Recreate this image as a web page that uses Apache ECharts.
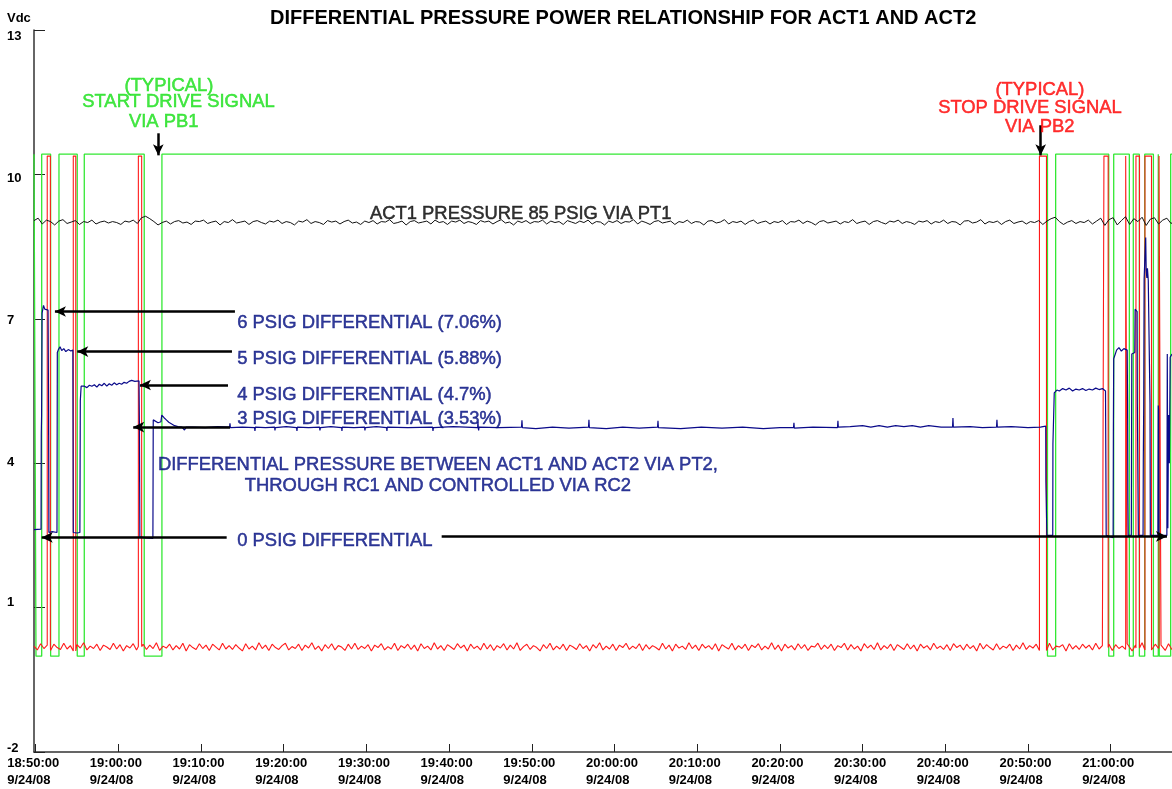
<!DOCTYPE html>
<html><head><meta charset="utf-8">
<script src="https://cdn.jsdelivr.net/npm/echarts@6/dist/echarts.min.js"></script>
<style>html,body{margin:0;padding:0;background:#fff}#c{width:1172px;height:789px}</style>
</head><body><div id="c"></div>
<script>
// x values are minutes after 18:50:00 on 9/24/08
const titleText = 'DIFFERENTIAL PRESSURE POWER RELATIONSHIP FOR ACT1 AND ACT2';
const yUnit = 'Vdc';
const xTickMinutes = [0,10,20,30,40,50,60,70,80,90,100,110,120,130];
const xTickTimes = ['18:50:00','19:00:00','19:10:00','19:20:00','19:30:00','19:40:00','19:50:00','20:00:00','20:10:00','20:20:00','20:30:00','20:40:00','20:50:00','21:00:00'];
const xTickDate = '9/24/08';

// ACT1 pressure (PT1), sampled every 0.5 min from -0.2
const blackStart = -0.2, blackStep = 0.5;
const blackVals = [
9.04,9.09,8.97,9.05,9.02,8.95,9.03,9.06,8.98,9.01,9.04,8.96,9.02,9.00,9.05,8.97,9.01,9.03,8.99,9.02,
9.00,8.96,9.03,9.01,9.05,8.98,9.10,9.13,9.08,9.02,8.95,9.00,9.03,8.97,9.02,9.04,8.99,9.01,8.96,9.03,
9.02,9.05,8.98,9.01,9.03,8.95,9.02,9.00,9.06,8.99,9.01,9.03,8.96,9.02,9.04,9.00,8.97,9.03,9.01,9.05,
8.98,9.02,9.00,8.95,9.03,9.01,9.06,8.98,9.02,9.00,8.96,9.04,9.01,9.03,8.97,9.02,9.05,8.99,9.01,8.96,
9.03,9.00,9.04,8.97,9.02,9.01,9.06,8.98,9.00,9.03,8.95,9.02,9.04,8.99,9.01,9.03,8.97,9.05,9.00,9.02,
8.96,9.03,9.01,9.05,8.98,9.02,9.00,8.96,9.04,9.01,9.03,8.97,9.02,9.06,8.99,9.01,8.95,9.03,9.00,9.04,
8.98,9.02,9.01,9.05,8.97,9.03,9.00,9.02,8.96,9.04,9.01,8.98,9.03,9.00,9.05,8.97,9.02,9.01,8.95,9.03,
9.00,9.04,8.98,9.02,9.01,9.06,8.97,9.03,9.00,8.96,9.02,9.04,8.99,9.01,9.03,8.96,9.02,9.00,9.05,8.98,
9.02,9.01,8.95,9.03,9.04,8.99,9.01,9.06,8.97,9.02,9.00,9.03,8.96,9.02,9.05,8.98,9.01,9.03,8.97,9.02,
9.00,9.04,8.96,9.02,9.01,9.05,8.98,9.03,9.00,8.95,9.02,9.04,8.99,9.01,9.03,8.97,9.02,9.00,9.06,8.98,
9.01,9.03,8.96,9.02,9.04,9.00,8.97,9.03,9.01,9.05,8.98,9.02,9.00,8.96,9.03,9.01,9.04,8.97,9.02,9.00,
9.05,8.98,9.02,9.01,8.95,9.03,9.04,8.99,9.01,9.06,8.97,9.02,9.00,9.03,8.96,9.02,9.05,8.98,9.01,9.03,
8.97,9.02,9.00,9.04,8.96,9.03,9.08,9.11,9.02,8.96,9.01,9.04,8.98,9.02,9.00,9.05,8.97,9.03,9.09,8.94,
9.06,9.10,8.95,9.04,9.12,8.96,9.08,9.02,9.11,8.94,9.07,9.10,8.97,9.05,9.09,8.98,9.04];

// Stop drive signal (red) baseline, sampled every 0.4 min from -0.2
const redStart = -0.2, redStep = 0.4;
const redBase = [
0.20,0.12,0.25,0.15,0.22,0.11,0.24,0.17,0.13,0.26,0.14,0.21,0.10,0.23,0.16,0.27,0.12,0.20,0.15,0.24,
0.11,0.22,0.18,0.13,0.26,0.14,0.23,0.10,0.21,0.16,0.25,0.12,0.19,0.24,0.13,0.22,0.15,0.27,0.11,0.20,
0.16,0.24,0.12,0.21,0.14,0.26,0.10,0.23,0.17,0.13,0.25,0.15,0.22,0.11,0.24,0.18,0.12,0.26,0.14,0.21,
0.13,0.23,0.16,0.10,0.25,0.14,0.20,0.12,0.27,0.15,0.22,0.11,0.24,0.17,0.13,0.21,0.26,0.12,0.19,0.15,
0.24,0.11,0.22,0.16,0.27,0.13,0.20,0.10,0.23,0.15,0.25,0.12,0.21,0.18,0.11,0.24,0.14,0.26,0.13,0.20,
0.15,0.23,0.10,0.22,0.17,0.25,0.12,0.19,0.14,0.26,0.11,0.21,0.16,0.24,0.13,0.22,0.10,0.25,0.15,0.20,
0.12,0.27,0.14,0.21,0.11,0.23,0.18,0.13,0.25,0.16,0.22,0.10,0.24,0.15,0.20,0.12,0.26,0.14,0.23,0.11,
0.21,0.16,0.25,0.12,0.22,0.14,0.27,0.11,0.19,0.24,0.13,0.21,0.17,0.10,0.23,0.15,0.26,0.12,0.20,0.14,
0.24,0.11,0.22,0.18,0.13,0.25,0.15,0.21,0.10,0.23,0.16,0.27,0.12,0.20,0.14,0.24,0.11,0.22,0.17,0.26,
0.13,0.20,0.15,0.25,0.11,0.23,0.14,0.21,0.17,0.12,0.26,0.14,0.22,0.10,0.24,0.16,0.20,0.13,0.27,0.15,
0.22,0.11,0.24,0.16,0.21,0.13,0.25,0.10,0.23,0.18,0.14,0.26,0.12,0.21,0.15,0.24,0.11,0.22,0.17,0.25,
0.12,0.20,0.14,0.27,0.13,0.22,0.10,0.24,0.16,0.21,0.12,0.25,0.15,0.23,0.11,0.20,0.18,0.26,0.13,0.22,
0.15,0.24,0.11,0.21,0.17,0.26,0.12,0.23,0.14,0.20,0.10,0.25,0.16,0.22,0.13,0.27,0.12,0.21,0.15,0.24,
0.11,0.23,0.18,0.13,0.25,0.14,0.22,0.10,0.24,0.16,0.21,0.12,0.26,0.15,0.20,0.13,0.23,0.11,0.25,0.17,
0.22,0.12,0.24,0.15,0.21,0.10,0.26,0.14,0.23,0.17,0.12,0.25,0.13,0.20,0.16,0.24,0.11,0.22,0.14,0.27,
0.13,0.21,0.16,0.24,0.11,0.22,0.15,0.26,0.12,0.20,0.18,0.23,0.10,0.25,0.14,0.21,0.13,0.24,0.16,0.22,
0.12,0.26,0.14,0.21,0.17,0.24,0.11,0.23,0.15,0.20,0.13,0.25,0.10,0.22,0.16,0.27,0.12,0.21,0.14,0.24,
0.15,0.22,0.11,0.25,0.13,0.20,0.17,0.24,0.12,0.23,0.14,0.26,0.10,0.21,0.16,0.24,0.12,0.22,0.15,0.20];
const redTop = 10.38;
const redPulses = [[1.40,1.78],[4.55,4.85],[12.42,12.82],[121.39,122.24],[129.19,129.70],[131.82,132.00],[133.06,133.49],[134.15,134.94],[135.85,136.09]];

// Start drive signal (green): starts high, toggles at these minutes
const greenHigh = 10.42, greenLow = -0.01;
const greenSwitch = [0.04,0.73,1.81,2.82,5.03,5.88,13.13,15.27,122.36,123.35,129.77,130.37,132.26,132.74,133.47,134.12,135.17,135.76,135.88,137.26];

// Differential pressure PT2 (blue)
const bluePts = [
[-0.2,2.62],[0.65,2.63],[0.68,4.6],[0.72,5.0],[0.78,7.12],[0.95,7.28],[1.1,7.2],[1.3,7.16],[1.5,7.18],[1.56,5.2],[1.6,2.56],[2.0,2.58],[2.58,2.56],
[2.62,6.3],[2.75,6.36],[2.95,6.42],[3.15,6.34],[3.4,6.38],[3.65,6.32],[3.95,6.36],[4.25,6.33],[4.5,6.35],[4.55,2.56],[5.0,2.55],[5.35,2.56],
[5.4,5.3],[5.5,5.6],[5.9,5.6],[6.2,5.57],[6.5,5.62],[6.8,5.6],[7.1,5.63],[7.4,5.58],[7.7,5.64],[8.0,5.61],[8.3,5.66],[8.6,5.6],[8.9,5.65],
[9.2,5.62],[9.5,5.67],[9.8,5.63],[10.1,5.66],[10.4,5.64],[10.7,5.68],[11.0,5.66],[11.3,5.7],[11.6,5.72],[12.0,5.7],[12.5,5.71],[12.55,4.75],
[12.6,2.47],[13.3,2.45],[14.18,2.44],[14.22,4.9],[14.4,4.86],[14.8,4.84],[15.15,4.86],[15.25,5.0],[15.5,4.95],[15.8,4.9],[16.1,4.85],
[16.4,4.82],[16.8,4.78],[17.2,4.76],[17.7,4.75],[18.0,4.69],[18.2,4.75],
[19.0,4.75],[20.5,4.74],[22.0,4.76],[23.45,4.75],[23.5,4.83],[23.55,4.74],[25.0,4.75],[26.47,4.74],[26.52,4.67],[26.57,4.75],[27.8,4.74],
[28.9,4.75],[28.94,4.68],[28.98,4.74],[30.3,4.76],[31.55,4.74],[31.6,4.67],[31.65,4.75],[33.0,4.74],[34.33,4.75],[34.38,4.68],[34.43,4.74],
[35.7,4.76],[37.0,4.74],[37.04,4.67],[37.08,4.75],[38.5,4.74],[39.78,4.75],[39.82,4.68],[39.86,4.74],[41.2,4.76],[42.44,4.74],[42.48,4.67],
[42.52,4.75],[45.0,4.74],[48.0,4.75],[48.05,4.67],[48.1,4.74],[50.5,4.76],[53.45,4.74],[53.49,4.86],[53.53,4.73],[53.57,4.68],[53.62,4.75],
[56.0,4.74],[58.76,4.75],[58.81,4.89],[58.86,4.74],[60.5,4.72],[62.5,4.75],[64.5,4.73],[66.86,4.75],[66.91,4.9],[66.96,4.74],[69.0,4.72],
[71.0,4.75],[73.0,4.73],[75.21,4.75],[75.26,4.88],[75.31,4.74],[78.0,4.72],[80.5,4.75],[83.0,4.73],[85.5,4.75],[88.0,4.72],[90.0,4.74],
[91.65,4.74],[91.7,4.84],[91.75,4.73],[94.0,4.75],[96.97,4.74],[97.02,4.88],[97.07,4.75],[98.5,4.76],[100.0,4.78],[101.0,4.75],[102.0,4.78],
[103.0,4.75],[104.0,4.78],[105.0,4.76],[106.0,4.78],[107.0,4.75],[108.0,4.78],[109.5,4.75],[110.88,4.75],[110.93,4.94],[110.98,4.75],
[113.0,4.76],[114.5,4.74],[116.2,4.75],[116.25,4.9],[116.3,4.75],[118.0,4.76],[120.0,4.74],[121.5,4.75],[122.15,4.77],
[122.17,3.62],[122.27,3.62],[122.29,2.5],[123.0,2.5],[123.02,4.4],[123.15,4.42],[123.18,5.46],[123.5,5.52],[123.8,5.5],[124.2,5.55],
[124.6,5.52],[125.0,5.56],[125.4,5.5],[125.8,5.54],[126.2,5.52],[126.6,5.55],[127.0,5.51],[127.4,5.54],[127.8,5.52],[128.2,5.56],
[128.6,5.53],[129.0,5.55],[129.38,5.5],[129.42,4.04],[129.46,2.5],[130.3,2.45],[130.33,4.6],[130.37,6.17],[130.72,6.35],[131.0,6.4],
[131.3,6.33],[131.6,6.38],[132.0,6.35],[132.05,5.23],[132.08,3.27],[132.12,2.5],[132.5,2.5],[132.53,4.5],[132.56,6.27],[132.92,6.3],
[132.96,7.2],[133.2,7.15],[133.23,5.23],[133.35,2.5],[133.92,2.5],[133.95,4.04],[134.0,5.23],[134.05,7.83],[134.24,8.69],[134.3,8.0],
[134.38,7.85],[134.45,8.05],[134.55,7.8],[134.74,7.8],[134.76,5.23],[134.8,2.5],[135.72,2.5],[135.76,5.2],[135.8,5.1],[135.84,2.5],
[136.8,2.5],[136.85,6.27],[136.92,2.65],[137.0,5.0],[137.1,4.0],[137.2,6.2],[137.42,6.27]];

// Annotations: [minutes, Vdc, text, align]
const greenNotes = [[16.12,11.833,'(TYPICAL)','center'],[17.27,11.5,'START DRIVE SIGNAL','center'],[15.49,11.083,'VIA PB1','center']];
const redNotes = [[121.45,11.75,'(TYPICAL)','center'],[120.24,11.375,'STOP DRIVE SIGNAL','center'],[121.42,10.979,'VIA PB2','center']];
const blackNotes = [[40.43,9.173,'ACT1 PRESSURE 85 PSIG VIA PT1','left']];
const blueNotes = [
[24.38,6.923,'6 PSIG DIFFERENTIAL (7.06%)','left'],
[24.38,6.160,'5 PSIG DIFFERENTIAL (5.88%)','left'],
[24.38,5.427,'4 PSIG DIFFERENTIAL (4.7%)','left'],
[24.38,4.910,'3 PSIG DIFFERENTIAL (3.53%)','left'],
[48.65,3.973,'DIFFERENTIAL PRESSURE BETWEEN ACT1 AND ACT2 VIA PT2,','center'],
[48.65,3.521,'THROUGH RC1 AND CONTROLLED VIA RC2','center'],
[24.38,2.375,'0 PSIG DIFFERENTIAL','left']];
// Arrows: [fromX, fromY, toX, toY]
const arrows = [
[14.83,10.854,14.83,10.396],[121.54,11.021,121.54,10.396],
[24.10,7.152,2.33,7.152],[23.74,6.319,5.03,6.319],[23.26,5.625,12.61,5.625],
[23.50,4.75,11.80,4.75],[23.10,2.458,0.73,2.458],[49.10,2.479,136.81,2.479]];

const FONT = '"Liberation Sans", Arial, Helvetica, sans-serif';
// small vertical nudges of the y tick labels (px, + = down), as printed in the source
const yLabelNudge = {'-2':-4, '1':-5, '4':-1, '7':2, '10':4, '13':6};

const blackData = blackVals.map((v,i)=>[blackStart + i*blackStep, v]);
const redData = [];
{
  let p = 0;
  for (let i=0;i<redBase.length;i++){
    const t = redStart + i*redStep;
    while (p < redPulses.length && t >= redPulses[p][0]) {
      const [a,b] = redPulses[p];
      redData.push([a, redBase[i]], [a, redTop], [b, redTop], [b, redBase[i]]);
      p++;
    }
    let inside = redPulses.some(([a,b]) => t >= a && t <= b);
    if (!inside) redData.push([t, redBase[i]]);
  }
}
const greenData = [[-0.2, greenHigh]];
greenSwitch.forEach((t,i)=>greenData.push([t, i%2===0 ? greenLow : greenHigh]));
greenData.push([137.42, greenSwitch.length%2===0 ? greenHigh : greenLow]);

function noteSeries(notes, color, withArrows){
  const s = {type:'scatter', z:10, silent:true, symbolSize:1, itemStyle:{color:'rgba(0,0,0,0)'},
    data: notes.map(n=>({value:[n[0],n[1]], name:n[2], label:{align:n[3]}})),
    label:{show:true, position:'inside', formatter:p=>p.name, color:color, fontSize:18.4, fontFamily:FONT, verticalAlign:'middle',
      textBorderColor:color, textBorderWidth:0.5},
    animation:false};
  if (withArrows) s.markLine = {silent:true, symbol:['none','arrow'], symbolSize:[8,11], animation:false,
    label:{show:false}, lineStyle:{color:'#000', width:2.5, type:'solid'}, emphasis:{disabled:true},
    data: arrows.map(a=>[{coord:[a[0],a[1]]},{coord:[a[2],a[3]]}])};
  return s;
}

const yRich = {};
Object.keys(yLabelNudge).forEach((k,i)=>{
  const d = yLabelNudge[k];
  yRich['n'+i] = {fontSize:13, fontWeight:'bold', color:'#000', fontFamily:FONT,
    padding: d>=0 ? [2*d,0,0,0] : [0,0,-2*d,0]};
});
const yKeys = Object.keys(yLabelNudge);

const chart = echarts.init(document.getElementById('c'), null, {renderer:'canvas'});
chart.setOption({
  animation:false,
  backgroundColor:'#fff',
  title:{text:titleText, left:265, top:3, textStyle:{fontSize:20, fontWeight:'bold', color:'#000', fontFamily:FONT}},
  graphic:[{type:'text', left:7, top:12, style:{text:yUnit, font:'bold 13px '+FONT, fill:'#000'}}],
  grid:{left:34, right:0, top:30, bottom:37},
  xAxis:{type:'value', min:-0.2, max:137.42,
    axisLine:{show:true, onZero:false, lineStyle:{color:'#333', width:1.5}},
    axisTick:{show:true, inside:true, length:8, customValues:xTickMinutes, lineStyle:{color:'#222', width:1}},
    axisLabel:{customValues:xTickMinutes, margin:3, color:'#000',
      formatter:v=>{const i=xTickMinutes.indexOf(v); return '{a|'+xTickTimes[i]+'}\n{a|'+xTickDate+'}';},
      rich:{a:{width:57, align:'left', fontSize:13, fontWeight:'bold', lineHeight:17, color:'#000', fontFamily:FONT}}},
    splitLine:{show:false}},
  yAxis:{type:'value', min:-2, max:13, interval:3,
    axisLine:{show:true, onZero:false, lineStyle:{color:'#333', width:1.5}},
    axisTick:{show:true, inside:true, length:11, lineStyle:{color:'#222', width:1}},
    axisLabel:{align:'left', margin:27, fontSize:13, fontWeight:'bold', color:'#000', fontFamily:FONT,
      formatter:v=>{const i=yKeys.indexOf(String(v)); return i<0 ? String(v) : '{n'+i+'|'+v+'}';}, rich:yRich},
    splitLine:{show:false}},
  series:[
    {type:'line', name:'START', data:greenData, step:'end', showSymbol:false, z:2, silent:true, lineStyle:{color:'#33e833', width:1.3}},
    {type:'line', name:'STOP', data:redData, showSymbol:false, z:3, silent:true, lineStyle:{color:'#ff1a1a', width:1.1}},
    {type:'line', name:'PT2', data:bluePts, showSymbol:false, z:4, silent:true, lineStyle:{color:'#0a0a8a', width:1.2}},
    {type:'line', name:'PT1', data:blackData, showSymbol:false, z:5, silent:true, lineStyle:{color:'#111', width:1}},
    noteSeries(greenNotes, '#18e018', false),
    noteSeries(redNotes, '#ff0000', false),
    noteSeries(blackNotes, '#000', false),
    noteSeries(blueNotes, '#000c80', true)
  ]
});
</script></body></html>
